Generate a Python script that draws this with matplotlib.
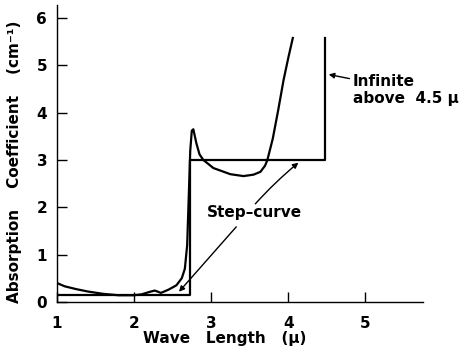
import numpy as np
import matplotlib
matplotlib.use('Agg')
import matplotlib.pyplot as plt

# measured absorption curve
wave = [1.00, 1.10, 1.25, 1.40, 1.60, 1.80, 2.00, 2.10, 2.20, 2.27, 2.35, 2.45,
        2.55, 2.62, 2.66, 2.69, 2.71, 2.73, 2.75, 2.77, 2.79, 2.81, 2.85, 2.90,
        3.03, 3.25, 3.42, 3.55, 3.64, 3.70, 3.73, 3.80, 3.87, 3.94, 4.00, 4.06]
absorb = [0.40, 0.33, 0.27, 0.22, 0.17, 0.14, 0.14, 0.16, 0.21, 0.24, 0.19, 0.26,
          0.35, 0.50, 0.70, 1.20, 2.20, 3.20, 3.62, 3.65, 3.50, 3.35, 3.12, 3.00,
          2.83, 2.70, 2.66, 2.69, 2.75, 2.88, 3.00, 3.45, 4.05, 4.69, 5.15, 5.58]

# step-curve approximation
step_x = [1.0, 2.73, 2.73, 4.48, 4.48]
step_y = [0.15, 0.15, 3.0, 3.0, 5.58]

xticks = [1, 2, 3, 4, 5]
yticks = [0, 1, 2, 3, 4, 5, 6]

fs = 11
fw = 'bold'

fig = plt.figure(figsize=(4.66, 3.49), dpi=100)
ax = fig.add_axes([0.122, 0.135, 0.786, 0.851])

ax.plot(wave, absorb, color='black', linewidth=1.6)
ax.plot(step_x, step_y, color='black', linewidth=1.6)

ax.set_xlim(1.0, 5.75)
ax.set_ylim(0, 6.28)
ax.spines['top'].set_visible(False)
ax.spines['right'].set_visible(False)
ax.spines['left'].set_linewidth(1.0)
ax.spines['bottom'].set_linewidth(1.0)

ax.set_xticks(xticks)
ax.set_yticks(yticks)
ax.set_xticklabels([str(t) for t in xticks], fontsize=fs, fontweight=fw)
ax.set_yticklabels([str(t) for t in yticks], fontsize=fs, fontweight=fw)
ax.tick_params(axis='both', direction='in', length=7, width=1)
ax.tick_params(axis='x', pad=10)
ax.tick_params(axis='y', pad=7)

arrow = dict(arrowstyle='-|>', color='black', lw=1.0, mutation_scale=8)

ax.annotate('', xy=(4.49, 4.82), xytext=(4.83, 4.71), arrowprops=arrow)
ax.text(4.84, 4.48, 'Infinite\nabove  4.5 \u03bc', fontsize=fs, fontweight=fw,
        ha='left', va='center', linespacing=1.15)

ax.text(2.94, 1.88, 'Step\u2013curve', fontsize=fs, fontweight=fw,
        ha='left', va='center')
ax.annotate('', xy=(4.16, 2.98), xytext=(3.55, 2.03),
            arrowprops=dict(arrow, connectionstyle='arc3,rad=-0.04'))
ax.annotate('', xy=(2.56, 0.17), xytext=(3.35, 1.63), arrowprops=arrow)

fig.text(15 / 466, 1 - 162 / 349, 'Absorption    Coefficient    (cm\u207b\u00b9)',
         rotation=90, fontsize=fs, fontweight=fw, ha='center', va='center')
fig.text(225 / 466, 1 - 338 / 349, 'Wave   Length   (\u03bc)',
         fontsize=fs, fontweight=fw, ha='center', va='center')

fig.savefig('out.png', dpi=100)
